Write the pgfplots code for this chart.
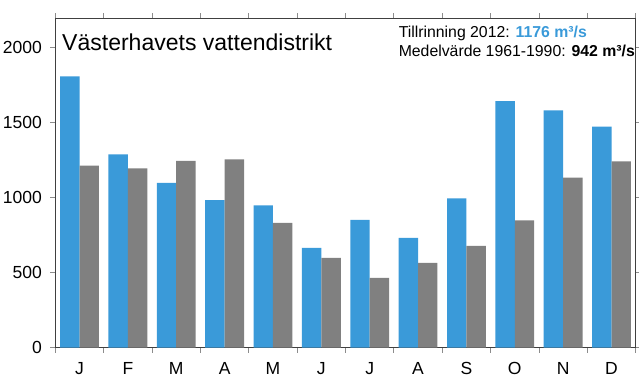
\documentclass[border=0pt]{standalone}
\usepackage{fontspec}
\setmainfont{Liberation Sans}
\usepackage{pgfplots}
\pgfplotsset{compat=1.18}
\definecolor{bblue}{HTML}{3A9AD9}
\definecolor{bgray}{HTML}{808080}
\begin{document}
\begin{tikzpicture}
\begin{axis}[
  scale only axis, width=580pt, height=329pt,
  xmin=0.5, xmax=12.5, ymin=0, ymax=2193,
  ybar=0pt, bar width=19.4pt,
  xtick={1,...,12}, xticklabels={J,F,M,A,M,J,J,A,S,O,N,D},
  major x tick style={draw=none},
  minor xtick={0.5,1.5,...,12.5},
  ytick={0,500,1000,1500,2000},
  tick align=outside,
  major tick length=5pt, minor tick length=5pt,
  tick style={black!45, line width=0.8pt},
  axis line style={black!75, line width=0.8pt},
  /pgf/number format/assume math mode=true,
  /pgf/number format/1000 sep={},
  tick label style={font=\fontsize{17.5}{19}\selectfont},
  xticklabel style={yshift=-6pt},
  yticklabel style={xshift=-5pt},
  clip=false,
]
\addplot[fill=bblue, draw=none] coordinates {
(1,1807) (2,1287) (3,1097) (4,982) (5,947) (6,664) (7,851) (8,731) (9,993) (10,1642) (11,1580) (12,1471)};
\addplot[fill=bgray, draw=none] coordinates {
(1,1211) (2,1193) (3,1244) (4,1253) (5,831) (6,597) (7,464) (8,564) (9,677) (10,847) (11,1131) (12,1240)};
\node[anchor=base west, font=\fontsize{23}{26}\selectfont, inner sep=0pt] at ([xshift=6.7pt,yshift=-31.7pt]current axis.north west) {Västerhavets vattendistrikt};
\node[anchor=base west, font=\fontsize{15.8}{18}\selectfont, inner sep=0pt] at ([xshift=343pt,yshift=-19pt]current axis.north west) {Tillrinning 2012: \textcolor{bblue}{\bfseries 1176 m³/s}};
\node[anchor=base west, font=\fontsize{15.8}{18}\selectfont, inner sep=0pt] at ([xshift=343pt,yshift=-38.4pt]current axis.north west) {Medelvärde 1961-1990: \textbf{942 m³/s}};
\end{axis}
\pgfresetboundingbox
\useasboundingbox ([xshift=-55.3pt,yshift=-40.7pt]current axis.south west) rectangle ([xshift=3.3pt,yshift=18.3pt]current axis.north east);
\end{tikzpicture}
\end{document}
